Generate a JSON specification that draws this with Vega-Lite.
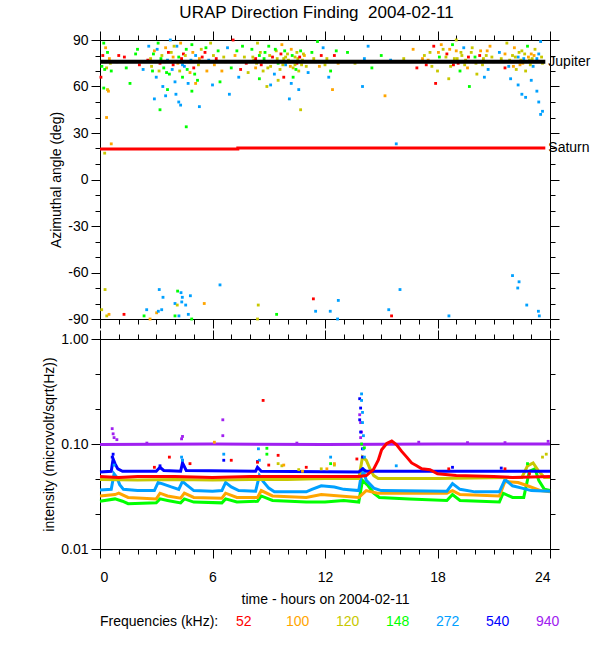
{
  "$schema": "https://vega.github.io/schema/vega-lite/v6.json",
  "title": {"text": "URAP Direction Finding\u00a0 2004-02-11", "fontSize": 17, "fontWeight": "normal", "font": "Liberation Sans", "anchor": "middle", "offset": 8},
  "padding": {"left": 42, "top": 4, "right": 5, "bottom": 5},
  "bounds": "flush",
  "spacing": 20,
  "config": {
    "view": {"stroke": "#000", "strokeWidth": 1},
    "font": "Liberation Sans",
    "axis": {"grid": false, "domainColor": "#000", "tickColor": "#000", "labelColor": "#000", "titleColor": "#000", "labelFontSize": 14, "titleFontSize": 14, "titleFontWeight": "normal", "labelFont": "Liberation Sans", "titleFont": "Liberation Sans"},
    "legend": {"labelFont": "Liberation Sans", "titleFont": "Liberation Sans"}
  },
  "datasets": {
    "top": [
      {"t":0.2,"a":88,"f":"148"},{"t":0.3,"a":85,"f":"100"},{"t":0.15,"a":80,"f":"52"},{"t":0.4,"a":82,"f":"148"},{"t":0.1,"a":73,"f":"148"},{"t":0.35,"a":72,"f":"120"},{"t":0.5,"a":78,"f":"100"},{"t":0.25,"a":71,"f":"148"},{"t":0.05,"a":66,"f":"52"},{"t":0.2,"a":59,"f":"148"},{"t":0.4,"a":58,"f":"120"},{"t":0.45,"a":57,"f":"100"},{"t":0.35,"a":40,"f":"100"},{"t":0.6,"a":23,"f":"100"},{"t":0.25,"a":17,"f":"120"},{"t":0.3,"a":76,"f":"52"},{"t":0.55,"a":75,"f":"120"},{"t":0.6,"a":70,"f":"148"},
      {"t":1.0,"a":80,"f":"52"},{"t":1.3,"a":79,"f":"52"},{"t":1.6,"a":62,"f":"148"},{"t":1.4,"a":72,"f":"148"},{"t":1.9,"a":81,"f":"148"},{"t":2.1,"a":74,"f":"52"},{"t":0.9,"a":76,"f":"52"},{"t":2.0,"a":84,"f":"148"},{"t":2.3,"a":71,"f":"272"},
      {"t":2.6,"a":86,"f":"272"},{"t":2.7,"a":78,"f":"120"},{"t":2.8,"a":70,"f":"148"},{"t":2.9,"a":83,"f":"100"},{"t":3.0,"a":66,"f":"272"},{"t":3.1,"a":88,"f":"148"},{"t":3.2,"a":75,"f":"52"},{"t":3.3,"a":80,"f":"120"},{"t":3.35,"a":60,"f":"272"},{"t":3.4,"a":72,"f":"148"},{"t":3.5,"a":85,"f":"100"},{"t":3.6,"a":77,"f":"272"},{"t":3.7,"a":68,"f":"148"},{"t":3.75,"a":90,"f":"272"},{"t":3.8,"a":82,"f":"120"},{"t":3.9,"a":74,"f":"52"},{"t":4.0,"a":63,"f":"272"},{"t":4.05,"a":55,"f":"272"},{"t":4.1,"a":86,"f":"272"},{"t":4.2,"a":79,"f":"148"},{"t":4.25,"a":70,"f":"120"},{"t":4.3,"a":88,"f":"100"},{"t":4.4,"a":66,"f":"148"},{"t":4.45,"a":81,"f":"52"},{"t":4.5,"a":73,"f":"272"},{"t":4.6,"a":84,"f":"148"},{"t":4.7,"a":62,"f":"272"},{"t":4.75,"a":76,"f":"120"},{"t":4.8,"a":69,"f":"100"},{"t":4.9,"a":87,"f":"148"},{"t":5.0,"a":72,"f":"52"},{"t":5.1,"a":80,"f":"272"},{"t":5.2,"a":64,"f":"148"},{"t":5.3,"a":78,"f":"100"},{"t":5.4,"a":84,"f":"120"},{"t":3.5,"a":54,"f":"272"},{"t":3.2,"a":45,"f":"148"},{"t":4.3,"a":48,"f":"272"},{"t":4.2,"a":50,"f":"272"},{"t":4.6,"a":34,"f":"148"},{"t":5.3,"a":47,"f":"272"},{"t":2.9,"a":52,"f":"272"},{"t":3.6,"a":58,"f":"148"},{"t":4.9,"a":57,"f":"148"},{"t":5.1,"a":62,"f":"100"},{"t":3.0,"a":76,"f":"120"},{"t":3.9,"a":79,"f":"100"},{"t":4.4,"a":74,"f":"272"},
      {"t":2.55,"a":77,"f":"52"},{"t":2.75,"a":73,"f":"120"},{"t":2.85,"a":81,"f":"148"},{"t":3.05,"a":84,"f":"272"},{"t":3.15,"a":70,"f":"120"},{"t":3.25,"a":78,"f":"148"},{"t":3.45,"a":76,"f":"120"},{"t":3.55,"a":69,"f":"148"},{"t":3.65,"a":82,"f":"52"},{"t":3.85,"a":71,"f":"272"},{"t":3.95,"a":86,"f":"120"},{"t":4.15,"a":75,"f":"100"},{"t":4.35,"a":78,"f":"52"},{"t":4.55,"a":80,"f":"120"},{"t":4.65,"a":71,"f":"148"},{"t":4.85,"a":77,"f":"272"},{"t":4.95,"a":82,"f":"100"},{"t":5.05,"a":68,"f":"148"},{"t":5.25,"a":74,"f":"120"},{"t":5.45,"a":79,"f":"52"},
      {"t":5.6,"a":82,"f":"52"},{"t":5.8,"a":77,"f":"272"},{"t":5.9,"a":88,"f":"120"},{"t":6.1,"a":74,"f":"100"},{"t":6.3,"a":83,"f":"148"},{"t":6.5,"a":70,"f":"100"},{"t":6.6,"a":79,"f":"120"},{"t":6.8,"a":85,"f":"272"},{"t":7.0,"a":72,"f":"148"},{"t":7.2,"a":80,"f":"100"},{"t":7.4,"a":66,"f":"272"},{"t":7.6,"a":86,"f":"148"},{"t":7.8,"a":75,"f":"52"},{"t":7.9,"a":69,"f":"120"},{"t":6.0,"a":61,"f":"272"},{"t":6.9,"a":55,"f":"272"},{"t":6.4,"a":63,"f":"148"},{"t":7.5,"a":71,"f":"52"},{"t":5.7,"a":70,"f":"100"},{"t":7.1,"a":90,"f":"52"},
      {"t":6.2,"a":78,"f":"52"},{"t":6.7,"a":76,"f":"120"},{"t":7.3,"a":83,"f":"148"},{"t":7.7,"a":79,"f":"120"},{"t":5.65,"a":85,"f":"148"},{"t":6.05,"a":80,"f":"120"},
      {"t":8.1,"a":84,"f":"148"},{"t":8.2,"a":77,"f":"120"},{"t":8.3,"a":72,"f":"100"},{"t":8.4,"a":88,"f":"120"},{"t":8.5,"a":80,"f":"148"},{"t":8.6,"a":74,"f":"52"},{"t":8.7,"a":70,"f":"120"},{"t":8.8,"a":82,"f":"148"},{"t":8.9,"a":76,"f":"100"},{"t":9.0,"a":86,"f":"148"},{"t":9.1,"a":73,"f":"120"},{"t":9.2,"a":79,"f":"52"},{"t":9.3,"a":68,"f":"272"},{"t":9.4,"a":83,"f":"120"},{"t":9.5,"a":75,"f":"148"},{"t":9.6,"a":71,"f":"120"},{"t":9.7,"a":87,"f":"100"},{"t":9.8,"a":78,"f":"120"},{"t":9.9,"a":74,"f":"272"},{"t":10.0,"a":81,"f":"120"},{"t":10.1,"a":76,"f":"148"},{"t":10.2,"a":84,"f":"100"},{"t":10.3,"a":72,"f":"120"},{"t":10.4,"a":79,"f":"120"},{"t":10.5,"a":75,"f":"52"},{"t":10.6,"a":70,"f":"120"},{"t":10.7,"a":83,"f":"148"},{"t":10.8,"a":77,"f":"120"},{"t":10.9,"a":80,"f":"100"},{"t":11.0,"a":73,"f":"120"},{"t":8.5,"a":65,"f":"148"},{"t":9.1,"a":61,"f":"272"},{"t":9.5,"a":64,"f":"120"},{"t":10.2,"a":62,"f":"272"},{"t":10.6,"a":58,"f":"272"},{"t":10.3,"a":66,"f":"148"},{"t":8.9,"a":60,"f":"120"},{"t":11.1,"a":69,"f":"272"},{"t":10.1,"a":52,"f":"272"},{"t":10.7,"a":45,"f":"120"},{"t":9.8,"a":66,"f":"52"},{"t":8.3,"a":78,"f":"52"},{"t":9.9,"a":79,"f":"120"},{"t":10.4,"a":74,"f":"120"},{"t":10.5,"a":82,"f":"120"},
      {"t":8.15,"a":79,"f":"120"},{"t":8.35,"a":75,"f":"120"},{"t":8.55,"a":82,"f":"120"},{"t":8.75,"a":78,"f":"148"},{"t":8.95,"a":72,"f":"120"},{"t":9.05,"a":80,"f":"120"},{"t":9.25,"a":76,"f":"120"},{"t":9.35,"a":84,"f":"148"},{"t":9.45,"a":78,"f":"120"},{"t":9.65,"a":81,"f":"52"},{"t":9.75,"a":74,"f":"120"},{"t":9.85,"a":83,"f":"148"},{"t":10.05,"a":77,"f":"120"},{"t":10.15,"a":73,"f":"100"},{"t":10.25,"a":80,"f":"148"},{"t":10.35,"a":76,"f":"120"},{"t":10.45,"a":71,"f":"148"},{"t":10.55,"a":78,"f":"120"},{"t":10.65,"a":79,"f":"52"},{"t":10.75,"a":74,"f":"120"},{"t":10.85,"a":81,"f":"120"},{"t":10.95,"a":76,"f":"120"},
      {"t":11.3,"a":82,"f":"148"},{"t":11.5,"a":76,"f":"120"},{"t":11.7,"a":73,"f":"100"},{"t":11.9,"a":85,"f":"272"},{"t":12.1,"a":78,"f":"120"},{"t":12.3,"a":70,"f":"148"},{"t":12.5,"a":80,"f":"52"},{"t":12.7,"a":75,"f":"100"},{"t":11.6,"a":89,"f":"148"},{"t":12.2,"a":66,"f":"272"},{"t":12.4,"a":58,"f":"100"},
      {"t":11.4,"a":78,"f":"120"},{"t":11.8,"a":80,"f":"52"},{"t":12.0,"a":74,"f":"120"},{"t":12.6,"a":83,"f":"148"},
      {"t":13.2,"a":82,"f":"148"},{"t":13.6,"a":75,"f":"120"},{"t":14.1,"a":78,"f":"272"},{"t":14.3,"a":86,"f":"272"},{"t":14.5,"a":72,"f":"148"},{"t":15.0,"a":80,"f":"148"},{"t":15.5,"a":77,"f":"272"},{"t":15.8,"a":23,"f":"272"},{"t":16.2,"a":78,"f":"120"},{"t":16.7,"a":84,"f":"100"},{"t":16.9,"a":72,"f":"52"},{"t":14.0,"a":60,"f":"272"},{"t":15.2,"a":54,"f":"100"},
      {"t":17.2,"a":78,"f":"100"},{"t":17.4,"a":74,"f":"52"},{"t":17.6,"a":82,"f":"120"},{"t":17.8,"a":86,"f":"52"},{"t":18.0,"a":70,"f":"120"},{"t":18.1,"a":79,"f":"148"},{"t":18.3,"a":84,"f":"120"},{"t":18.4,"a":76,"f":"100"},{"t":18.5,"a":81,"f":"52"},{"t":18.7,"a":73,"f":"120"},{"t":18.8,"a":87,"f":"148"},{"t":18.9,"a":78,"f":"120"},{"t":19.0,"a":83,"f":"100"},{"t":19.1,"a":75,"f":"52"},{"t":19.2,"a":70,"f":"148"},{"t":19.3,"a":80,"f":"120"},{"t":19.4,"a":85,"f":"272"},{"t":19.5,"a":77,"f":"120"},{"t":19.6,"a":72,"f":"100"},{"t":19.8,"a":82,"f":"120"},{"t":19.9,"a":76,"f":"52"},{"t":20.0,"a":79,"f":"148"},{"t":20.1,"a":68,"f":"120"},{"t":20.3,"a":83,"f":"100"},{"t":20.4,"a":74,"f":"120"},{"t":20.6,"a":80,"f":"120"},{"t":20.7,"a":71,"f":"272"},{"t":20.8,"a":86,"f":"100"},{"t":21.0,"a":76,"f":"120"},{"t":17.9,"a":62,"f":"52"},{"t":18.6,"a":65,"f":"120"},{"t":19.7,"a":60,"f":"148"},{"t":20.5,"a":66,"f":"272"},{"t":19.0,"a":90,"f":"120"},{"t":18.2,"a":87,"f":"100"},
      {"t":17.3,"a":80,"f":"120"},{"t":17.5,"a":77,"f":"100"},{"t":17.7,"a":73,"f":"120"},{"t":18.05,"a":82,"f":"100"},{"t":18.25,"a":76,"f":"120"},{"t":18.45,"a":79,"f":"120"},{"t":18.65,"a":84,"f":"100"},{"t":18.85,"a":74,"f":"52"},{"t":19.05,"a":78,"f":"120"},{"t":19.25,"a":82,"f":"120"},{"t":19.45,"a":74,"f":"120"},{"t":19.65,"a":79,"f":"52"},{"t":19.85,"a":85,"f":"120"},{"t":20.05,"a":75,"f":"120"},{"t":20.25,"a":80,"f":"52"},{"t":20.45,"a":78,"f":"120"},{"t":20.65,"a":83,"f":"100"},{"t":20.9,"a":79,"f":"120"},
      {"t":21.3,"a":82,"f":"272"},{"t":21.5,"a":76,"f":"100"},{"t":21.7,"a":88,"f":"120"},{"t":21.8,"a":73,"f":"272"},{"t":22.0,"a":80,"f":"120"},{"t":22.1,"a":85,"f":"100"},{"t":22.2,"a":71,"f":"120"},{"t":22.3,"a":79,"f":"272"},{"t":22.4,"a":74,"f":"100"},{"t":22.5,"a":83,"f":"120"},{"t":22.6,"a":78,"f":"272"},{"t":22.7,"a":70,"f":"120"},{"t":22.8,"a":86,"f":"148"},{"t":22.9,"a":77,"f":"120"},{"t":23.0,"a":81,"f":"100"},{"t":23.1,"a":73,"f":"272"},{"t":23.2,"a":84,"f":"120"},{"t":23.3,"a":78,"f":"272"},{"t":23.5,"a":89,"f":"272"},{"t":23.6,"a":75,"f":"120"},{"t":22.5,"a":55,"f":"272"},{"t":22.7,"a":53,"f":"272"},{"t":23.0,"a":64,"f":"272"},{"t":23.3,"a":57,"f":"272"},{"t":23.4,"a":50,"f":"272"},{"t":23.5,"a":42,"f":"272"},{"t":23.6,"a":44,"f":"272"},{"t":21.9,"a":65,"f":"272"},{"t":22.3,"a":61,"f":"272"},{"t":21.6,"a":72,"f":"52"},{"t":22.0,"a":76,"f":"52"},
      {"t":21.4,"a":78,"f":"120"},{"t":21.6,"a":81,"f":"100"},{"t":21.85,"a":77,"f":"120"},{"t":22.05,"a":73,"f":"100"},{"t":22.15,"a":79,"f":"120"},{"t":22.35,"a":82,"f":"120"},{"t":22.45,"a":77,"f":"120"},{"t":22.55,"a":75,"f":"100"},{"t":22.65,"a":81,"f":"120"},{"t":22.85,"a":79,"f":"100"},{"t":22.95,"a":74,"f":"120"},{"t":23.05,"a":78,"f":"120"},{"t":23.15,"a":80,"f":"100"},{"t":23.25,"a":76,"f":"120"},{"t":23.4,"a":81,"f":"272"},{"t":23.55,"a":79,"f":"120"},
      {"t":0.27,"a":-71,"f":"120"},{"t":0.09,"a":-84,"f":"120"},{"t":0.36,"a":-88,"f":"120"},{"t":0.48,"a":-87,"f":"100"},{"t":1.28,"a":-87,"f":"52"},{"t":2.35,"a":-88,"f":"148"},{"t":2.49,"a":-84,"f":"272"},{"t":2.67,"a":-90,"f":"100"},{"t":3.02,"a":-86,"f":"100"},{"t":3.11,"a":-85,"f":"272"},{"t":3.16,"a":-71,"f":"272"},{"t":3.29,"a":-84,"f":"272"},{"t":3.36,"a":-76,"f":"272"},{"t":4.0,"a":-80,"f":"272"},{"t":4.0,"a":-88,"f":"148"},{"t":4.12,"a":-81,"f":"120"},{"t":4.14,"a":-72,"f":"148"},{"t":4.21,"a":-88,"f":"272"},{"t":4.32,"a":-73,"f":"272"},{"t":4.39,"a":-76,"f":"272"},{"t":4.36,"a":-79,"f":"272"},{"t":4.57,"a":-81,"f":"272"},{"t":4.71,"a":-87,"f":"272"},{"t":4.82,"a":-75,"f":"272"},{"t":4.89,"a":-90,"f":"148"},{"t":5.56,"a":-80,"f":"100"},{"t":6.4,"a":-68,"f":"272"},{"t":8.44,"a":-81,"f":"120"},{"t":8.4,"a":-90,"f":"120"},{"t":9.42,"a":-87,"f":"148"},{"t":11.38,"a":-77,"f":"52"},{"t":11.5,"a":-85,"f":"272"},{"t":12.28,"a":-85,"f":"272"},{"t":12.71,"a":-78,"f":"272"},{"t":12.67,"a":-90,"f":"272"},{"t":15.4,"a":-84,"f":"272"},{"t":15.55,"a":-88,"f":"52"},{"t":16.0,"a":-71,"f":"272"},{"t":18.61,"a":-88,"f":"272"},{"t":22.0,"a":-62,"f":"272"},{"t":22.35,"a":-66,"f":"272"},{"t":22.28,"a":-70,"f":"272"},{"t":22.76,"a":-81,"f":"272"},{"t":23.38,"a":-85,"f":"272"},{"t":23.43,"a":-88,"f":"272"}
    ],
    "planets": [
      {"t":0,"a":76,"p":"Jupiter"},{"t":23.75,"a":76,"p":"Jupiter"},
      {"t":0,"a":19.6,"p":"Saturn"},{"t":7.35,"a":19.6,"p":"Saturn"},{"t":7.35,"a":20.4,"p":"Saturn"},{"t":23.75,"a":20.4,"p":"Saturn"}
    ],
    "names": [
      {"t":23.75,"a":76,"p":"Jupiter"},{"t":23.75,"a":20.4,"p":"Saturn"}
    ],
    "traces": [
      {"t":0,"v":0.0285,"f":"148"},{"t":0.8,"v":0.03,"f":"148"},{"t":1.2,"v":0.0285,"f":"148"},{"t":1.5,"v":0.027,"f":"148"},{"t":3.0,"v":0.0275,"f":"148"},{"t":3.2,"v":0.03,"f":"148"},{"t":3.6,"v":0.029,"f":"148"},{"t":4.3,"v":0.0275,"f":"148"},{"t":4.5,"v":0.03,"f":"148"},{"t":5.0,"v":0.028,"f":"148"},{"t":6.5,"v":0.0275,"f":"148"},{"t":6.7,"v":0.03,"f":"148"},{"t":7.3,"v":0.028,"f":"148"},{"t":8.4,"v":0.0285,"f":"148"},{"t":8.6,"v":0.032,"f":"148"},{"t":9.2,"v":0.029,"f":"148"},{"t":11.0,"v":0.028,"f":"148"},{"t":12.0,"v":0.028,"f":"148"},{"t":13.0,"v":0.029,"f":"148"},{"t":13.8,"v":0.028,"f":"148"},{"t":14.0,"v":0.045,"f":"148"},{"t":14.3,"v":0.04,"f":"148"},{"t":14.6,"v":0.034,"f":"148"},{"t":14.9,"v":0.031,"f":"148"},{"t":16.5,"v":0.03,"f":"148"},{"t":18.5,"v":0.029,"f":"148"},{"t":18.8,"v":0.033,"f":"148"},{"t":19.2,"v":0.029,"f":"148"},{"t":21.3,"v":0.028,"f":"148"},{"t":21.5,"v":0.034,"f":"148"},{"t":22.0,"v":0.031,"f":"148"},{"t":22.6,"v":0.031,"f":"148"},{"t":22.9,"v":0.055,"f":"148"},{"t":23.2,"v":0.058,"f":"148"},{"t":23.4,"v":0.045,"f":"148"},{"t":23.7,"v":0.037,"f":"148"},{"t":24,"v":0.036,"f":"148"},
      {"t":0,"v":0.032,"f":"100"},{"t":0.8,"v":0.033,"f":"100"},{"t":1.0,"v":0.034,"f":"100"},{"t":1.5,"v":0.031,"f":"100"},{"t":3.0,"v":0.03,"f":"100"},{"t":3.2,"v":0.034,"f":"100"},{"t":3.6,"v":0.032,"f":"100"},{"t":4.3,"v":0.0305,"f":"100"},{"t":4.5,"v":0.034,"f":"100"},{"t":5.0,"v":0.031,"f":"100"},{"t":6.5,"v":0.0305,"f":"100"},{"t":6.7,"v":0.034,"f":"100"},{"t":7.3,"v":0.031,"f":"100"},{"t":8.4,"v":0.031,"f":"100"},{"t":8.6,"v":0.036,"f":"100"},{"t":9.2,"v":0.032,"f":"100"},{"t":11.0,"v":0.031,"f":"100"},{"t":11.8,"v":0.033,"f":"100"},{"t":13.8,"v":0.031,"f":"100"},{"t":14.2,"v":0.036,"f":"100"},{"t":14.8,"v":0.034,"f":"100"},{"t":18.5,"v":0.034,"f":"100"},{"t":18.8,"v":0.036,"f":"100"},{"t":19.2,"v":0.033,"f":"100"},{"t":21.3,"v":0.032,"f":"100"},{"t":21.6,"v":0.044,"f":"100"},{"t":22.3,"v":0.043,"f":"100"},{"t":22.8,"v":0.04,"f":"100"},{"t":23.5,"v":0.036,"f":"100"},{"t":24,"v":0.035,"f":"100"},
      {"t":0,"v":0.0365,"f":"272"},{"t":0.6,"v":0.037,"f":"272"},{"t":0.75,"v":0.052,"f":"272"},{"t":0.9,"v":0.048,"f":"272"},{"t":1.05,"v":0.041,"f":"272"},{"t":1.25,"v":0.037,"f":"272"},{"t":2.0,"v":0.036,"f":"272"},{"t":2.9,"v":0.036,"f":"272"},{"t":3.1,"v":0.043,"f":"272"},{"t":3.3,"v":0.042,"f":"272"},{"t":3.8,"v":0.039,"f":"272"},{"t":4.2,"v":0.037,"f":"272"},{"t":4.4,"v":0.044,"f":"272"},{"t":4.6,"v":0.041,"f":"272"},{"t":5.0,"v":0.036,"f":"272"},{"t":6.0,"v":0.0355,"f":"272"},{"t":6.5,"v":0.036,"f":"272"},{"t":6.7,"v":0.043,"f":"272"},{"t":7.0,"v":0.039,"f":"272"},{"t":7.4,"v":0.036,"f":"272"},{"t":8.3,"v":0.0355,"f":"272"},{"t":8.5,"v":0.05,"f":"272"},{"t":8.7,"v":0.044,"f":"272"},{"t":9.0,"v":0.038,"f":"272"},{"t":9.3,"v":0.035,"f":"272"},{"t":11.0,"v":0.035,"f":"272"},{"t":11.3,"v":0.037,"f":"272"},{"t":11.8,"v":0.04,"f":"272"},{"t":12.5,"v":0.039,"f":"272"},{"t":13.0,"v":0.037,"f":"272"},{"t":13.8,"v":0.036,"f":"272"},{"t":14.0,"v":0.06,"f":"272"},{"t":14.2,"v":0.045,"f":"272"},{"t":14.6,"v":0.038,"f":"272"},{"t":15.0,"v":0.036,"f":"272"},{"t":18.5,"v":0.0355,"f":"272"},{"t":18.8,"v":0.042,"f":"272"},{"t":19.2,"v":0.037,"f":"272"},{"t":20.0,"v":0.035,"f":"272"},{"t":21.3,"v":0.035,"f":"272"},{"t":21.6,"v":0.046,"f":"272"},{"t":22.0,"v":0.04,"f":"272"},{"t":22.5,"v":0.038,"f":"272"},{"t":23.0,"v":0.036,"f":"272"},{"t":24,"v":0.0355,"f":"272"},
      {"t":0,"v":0.046,"f":"120"},{"t":2,"v":0.0455,"f":"120"},{"t":4,"v":0.046,"f":"120"},{"t":6,"v":0.0455,"f":"120"},{"t":8,"v":0.046,"f":"120"},{"t":10,"v":0.046,"f":"120"},{"t":12,"v":0.047,"f":"120"},{"t":13.8,"v":0.047,"f":"120"},{"t":14.0,"v":0.075,"f":"120"},{"t":14.2,"v":0.07,"f":"120"},{"t":14.4,"v":0.058,"f":"120"},{"t":14.6,"v":0.05,"f":"120"},{"t":14.84,"v":0.047,"f":"120"},{"t":18,"v":0.047,"f":"120"},{"t":20,"v":0.0475,"f":"120"},{"t":22.5,"v":0.048,"f":"120"},{"t":22.8,"v":0.062,"f":"120"},{"t":23.1,"v":0.066,"f":"120"},{"t":23.4,"v":0.055,"f":"120"},{"t":23.7,"v":0.048,"f":"120"},{"t":24,"v":0.048,"f":"120"},
      {"t":0,"v":0.054,"f":"540"},{"t":0.6,"v":0.055,"f":"540"},{"t":0.7,"v":0.072,"f":"540"},{"t":0.8,"v":0.065,"f":"540"},{"t":0.95,"v":0.058,"f":"540"},{"t":1.2,"v":0.055,"f":"540"},{"t":3.0,"v":0.055,"f":"540"},{"t":3.2,"v":0.06,"f":"540"},{"t":3.4,"v":0.056,"f":"540"},{"t":4.3,"v":0.055,"f":"540"},{"t":4.4,"v":0.066,"f":"540"},{"t":4.6,"v":0.056,"f":"540"},{"t":8.3,"v":0.055,"f":"540"},{"t":8.4,"v":0.06,"f":"540"},{"t":8.6,"v":0.055,"f":"540"},{"t":13.8,"v":0.054,"f":"540"},{"t":14.0,"v":0.058,"f":"540"},{"t":14.2,"v":0.055,"f":"540"},{"t":24,"v":0.055,"f":"540"},
      {"t":0,"v":0.099,"f":"940"},{"t":6,"v":0.1,"f":"940"},{"t":12,"v":0.099,"f":"940"},{"t":18,"v":0.1,"f":"940"},{"t":24,"v":0.1,"f":"940"},
      {"t":0,"v":0.049,"f":"52"},{"t":1,"v":0.048,"f":"52"},{"t":2,"v":0.049,"f":"52"},{"t":4,"v":0.049,"f":"52"},{"t":6,"v":0.048,"f":"52"},{"t":8,"v":0.049,"f":"52"},{"t":10,"v":0.049,"f":"52"},{"t":12,"v":0.049,"f":"52"},{"t":13.8,"v":0.049,"f":"52"},{"t":14.2,"v":0.05,"f":"52"},{"t":14.58,"v":0.057,"f":"52"},{"t":14.84,"v":0.07,"f":"52"},{"t":15.02,"v":0.088,"f":"52"},{"t":15.29,"v":0.101,"f":"52"},{"t":15.56,"v":0.107,"f":"52"},{"t":15.82,"v":0.098,"f":"52"},{"t":16.09,"v":0.085,"f":"52"},{"t":16.36,"v":0.075,"f":"52"},{"t":16.62,"v":0.066,"f":"52"},{"t":16.89,"v":0.062,"f":"52"},{"t":17.16,"v":0.058,"f":"52"},{"t":17.6,"v":0.057,"f":"52"},{"t":18,"v":0.052,"f":"52"},{"t":19,"v":0.05,"f":"52"},{"t":21,"v":0.049,"f":"52"},{"t":22,"v":0.048,"f":"52"},{"t":24,"v":0.049,"f":"52"}
    ],
    "strays": [
      {"t":0.65,"v":0.14,"f":"940"},{"t":0.7,"v":0.125,"f":"940"},{"t":0.75,"v":0.115,"f":"940"},{"t":0.9,"v":0.11,"f":"940"},{"t":4.35,"v":0.112,"f":"940"},{"t":4.4,"v":0.118,"f":"940"},{"t":6.55,"v":0.17,"f":"940"},{"t":6.55,"v":0.12,"f":"940"},{"t":13.85,"v":0.19,"f":"940"},{"t":13.9,"v":0.16,"f":"940"},{"t":13.95,"v":0.13,"f":"940"},{"t":13.9,"v":0.115,"f":"940"},{"t":17.0,"v":0.104,"f":"940"},{"t":19.6,"v":0.103,"f":"940"},{"t":23.9,"v":0.106,"f":"940"},{"t":2.5,"v":0.102,"f":"940"},{"t":10.5,"v":0.102,"f":"940"},{"t":21.6,"v":0.103,"f":"940"},
      {"t":0.65,"v":0.075,"f":"540"},{"t":0.7,"v":0.08,"f":"540"},{"t":13.85,"v":0.27,"f":"540"},{"t":13.9,"v":0.22,"f":"540"},{"t":13.85,"v":0.17,"f":"540"},{"t":13.9,"v":0.13,"f":"540"},{"t":14.0,"v":0.09,"f":"540"},{"t":14.0,"v":0.075,"f":"540"},{"t":4.4,"v":0.07,"f":"540"},{"t":6.6,"v":0.07,"f":"540"},{"t":8.4,"v":0.068,"f":"540"},{"t":18.8,"v":0.06,"f":"540"},{"t":21.4,"v":0.059,"f":"540"},{"t":3.2,"v":0.062,"f":"540"},
      {"t":13.95,"v":0.3,"f":"272"},{"t":13.95,"v":0.26,"f":"272"},{"t":14.0,"v":0.2,"f":"272"},{"t":14.0,"v":0.16,"f":"272"},{"t":14.05,"v":0.12,"f":"272"},{"t":14.05,"v":0.09,"f":"272"},{"t":14.1,"v":0.075,"f":"272"},{"t":0.75,"v":0.063,"f":"272"},{"t":4.35,"v":0.075,"f":"272"},{"t":4.4,"v":0.07,"f":"272"},{"t":8.45,"v":0.09,"f":"272"},{"t":8.5,"v":0.07,"f":"272"},{"t":6.6,"v":0.08,"f":"272"},{"t":15.8,"v":0.062,"f":"272"},{"t":12.3,"v":0.075,"f":"272"},
      {"t":8.7,"v":0.26,"f":"52"},{"t":3.7,"v":0.075,"f":"52"},{"t":4.8,"v":0.065,"f":"52"},{"t":7.0,"v":0.07,"f":"52"},{"t":8.4,"v":0.067,"f":"52"},{"t":9.5,"v":0.078,"f":"52"},{"t":9.0,"v":0.063,"f":"52"},{"t":2.9,"v":0.06,"f":"52"},{"t":13.7,"v":0.072,"f":"52"},{"t":21.6,"v":0.058,"f":"52"},{"t":22.9,"v":0.052,"f":"52"},{"t":18.6,"v":0.058,"f":"52"},{"t":11.0,"v":0.06,"f":"52"},
      {"t":8.9,"v":0.091,"f":"148"},{"t":8.9,"v":0.08,"f":"148"},{"t":13.95,"v":0.1,"f":"148"},{"t":22.8,"v":0.065,"f":"148"},{"t":12.3,"v":0.065,"f":"148"},{"t":14.1,"v":0.092,"f":"148"},
      {"t":9.5,"v":0.065,"f":"120"},{"t":9.7,"v":0.062,"f":"120"},{"t":12.5,"v":0.063,"f":"120"},{"t":11.8,"v":0.058,"f":"120"},{"t":23.6,"v":0.075,"f":"120"},{"t":23.8,"v":0.08,"f":"120"},{"t":10.6,"v":0.057,"f":"120"},
      {"t":6.1,"v":0.104,"f":"100"},{"t":9.8,"v":0.063,"f":"100"},{"t":12.5,"v":0.065,"f":"100"},{"t":10.8,"v":0.055,"f":"100"},{"t":12.1,"v":0.058,"f":"100"}
    ]
  },
  "vconcat": [
    {
      "width": 450,
      "height": 279,
      "resolve": {"axis": {"x": "independent", "y": "independent"}},
      "layer": [
        {
          "data": {"name": "top"},
          "mark": {"type": "square", "size": 8, "opacity": 1},
          "encoding": {
            "x": {"field": "t", "type": "quantitative", "scale": {"domain": [0, 24], "nice": false},
              "axis": {"orient": "bottom", "values": [0,1,2,3,4,5,6,7,8,9,10,11,12,13,14,15,16,17,18,19,20,21,22,23,24], "labels": false, "title": null,
                "tickSize": {"condition": {"test": "datum.value % 6 == 0", "value": 9}, "value": 5}}},
            "y": {"field": "a", "type": "quantitative", "scale": {"domain": [-90, 90], "nice": false},
              "axis": {"orient": "left", "values": [-90,-80,-70,-60,-50,-40,-30,-20,-10,0,10,20,30,40,50,60,70,80,90], "title": "Azimuthal angle (deg)",
                "labelExpr": "datum.value % 30 == 0 ? replace(datum.label, '\u2212', '-') : ''",
                "tickSize": {"condition": {"test": "datum.value % 30 == 0", "value": 9}, "value": 5}, "labelPadding": 3}},
            "color": {"field": "f", "type": "nominal",
              "scale": {"domain": ["52","100","120","148","272","540","940"], "range": ["#ff0000","#ffa500","#c8c800","#00ff00","#00a0ff","#0000ff","#a020f0"]},
              "legend": {"orient": "bottom", "direction": "horizontal", "title": "Frequencies (kHz):", "titleOrient": "left", "titleFontSize": 14, "titleFontWeight": "normal", "titleColor": "#000", "titlePadding": 3,
                "labelFontSize": 14, "symbolSize": 0, "symbolOpacity": 0, "symbolStrokeWidth": 0, "labelOffset": 0, "gridAlign": "all", "columnPadding": 12, "offset": 8,
                "labelColor": {"expr": "datum.value == '52' ? '#ff0000' : datum.value == '100' ? '#ffa500' : datum.value == '120' ? '#c8c800' : datum.value == '148' ? '#00ff00' : datum.value == '272' ? '#00a0ff' : datum.value == '540' ? '#0000ff' : '#a020f0'"}}}
          }
        },
        {
          "data": {"name": "planets"},
          "transform": [{"filter": "datum.p == 'Jupiter'"}],
          "mark": {"type": "line", "color": "#000", "strokeWidth": 4},
          "encoding": {
            "x": {"field": "t", "type": "quantitative",
              "axis": {"orient": "top", "values": [0,1,2,3,4,5,6,7,8,9,10,11,12,13,14,15,16,17,18,19,20,21,22,23,24], "labels": false, "title": null,
                "tickSize": {"condition": {"test": "datum.value % 6 == 0", "value": 9}, "value": 5}}},
            "y": {"field": "a", "type": "quantitative",
              "axis": {"orient": "right", "values": [-90,-80,-70,-60,-50,-40,-30,-20,-10,0,10,20,30,40,50,60,70,80,90], "labels": false, "title": null,
                "tickSize": {"condition": {"test": "datum.value % 30 == 0", "value": 9}, "value": 5}}}
          }
        },
        {
          "data": {"name": "planets"},
          "transform": [{"filter": "datum.p == 'Saturn'"}],
          "mark": {"type": "line", "color": "#ff0000", "strokeWidth": 3},
          "encoding": {
            "x": {"field": "t", "type": "quantitative", "axis": null},
            "y": {"field": "a", "type": "quantitative", "axis": null}
          }
        },
        {
          "data": {"name": "names"},
          "mark": {"type": "text", "align": "left", "baseline": "middle", "dx": 3, "fontSize": 14, "color": "#000"},
          "encoding": {
            "x": {"field": "t", "type": "quantitative", "axis": null},
            "y": {"field": "a", "type": "quantitative", "axis": null},
            "text": {"field": "p"}
          }
        }
      ]
    },
    {
      "width": 450,
      "height": 210,
      "resolve": {"axis": {"x": "independent", "y": "independent"}},
      "layer": [
        {
          "data": {"name": "traces"},
          "mark": {"type": "line", "strokeWidth": 3},
          "encoding": {
            "x": {"field": "t", "type": "quantitative", "scale": {"domain": [0, 24], "nice": false},
              "axis": {"orient": "bottom", "values": [0,1,2,3,4,5,6,7,8,9,10,11,12,13,14,15,16,17,18,19,20,21,22,23,24], "title": "time - hours on 2004-02-11",
                "labelExpr": "datum.value % 6 == 0 ? datum.label : ''", "labelPadding": 12, "titlePadding": 8,
                "tickSize": {"condition": {"test": "datum.value % 6 == 0", "value": 9}, "value": 5}}},
            "y": {"field": "v", "type": "quantitative", "scale": {"type": "log", "domain": [0.01, 1], "nice": false},
              "axis": {"orient": "left", "values": [0.01, 0.0215, 0.0464, 0.1, 0.215, 0.464, 1], "title": "intensity (microvolt/sqrt(Hz))",
                "labelExpr": "datum.value == 1 || datum.value == 0.1 || datum.value == 0.01 ? format(datum.value, '.2f') : ''",
                "tickSize": {"condition": {"test": "datum.value == 1 || datum.value == 0.1 || datum.value == 0.01", "value": 9}, "value": 5}, "labelPadding": 3}},
            "color": {"field": "f", "type": "nominal"}
          }
        },
        {
          "data": {"name": "strays"},
          "mark": {"type": "square", "size": 8, "opacity": 1},
          "encoding": {
            "x": {"field": "t", "type": "quantitative",
              "axis": {"orient": "top", "values": [0,1,2,3,4,5,6,7,8,9,10,11,12,13,14,15,16,17,18,19,20,21,22,23,24], "labels": false, "title": null,
                "tickSize": {"condition": {"test": "datum.value % 6 == 0", "value": 9}, "value": 5}}},
            "y": {"field": "v", "type": "quantitative",
              "axis": {"orient": "right", "values": [0.01, 0.0215, 0.0464, 0.1, 0.215, 0.464, 1], "labels": false, "title": null,
                "tickSize": {"condition": {"test": "datum.value == 1 || datum.value == 0.1 || datum.value == 0.01", "value": 9}, "value": 5}}},
            "color": {"field": "f", "type": "nominal"}
          }
        }
      ]
    }
  ]
}
